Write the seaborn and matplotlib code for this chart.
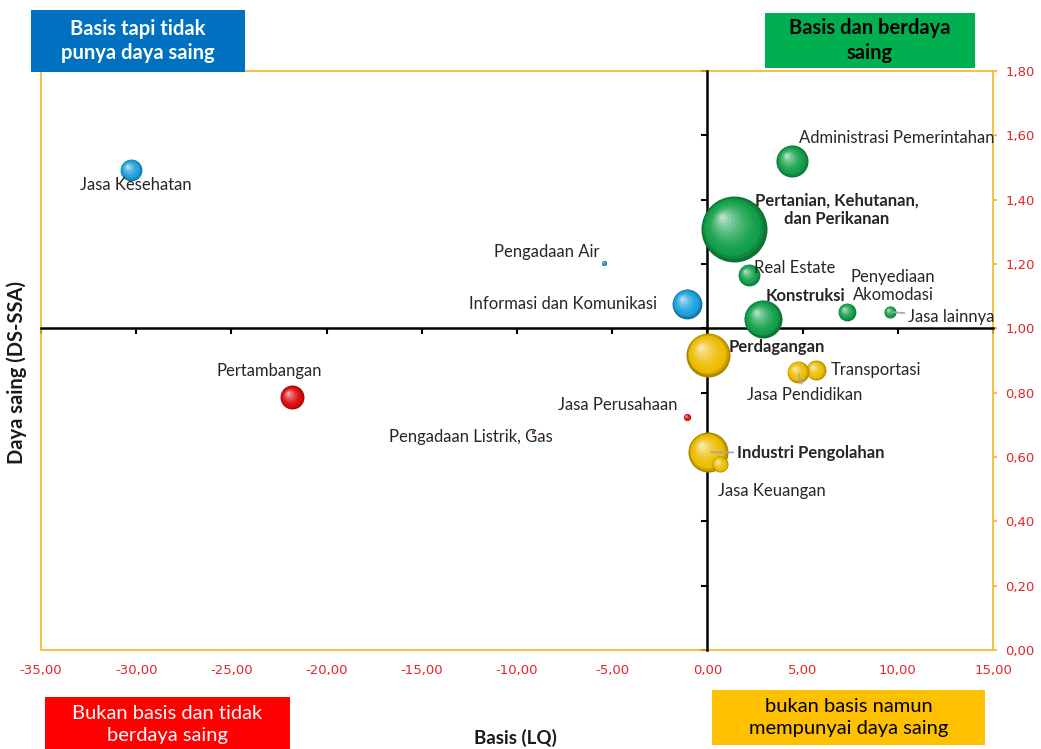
import numpy as np
import pandas as pd
import seaborn as sns
import matplotlib
matplotlib.use("Agg")
import matplotlib.pyplot as plt
from matplotlib.ticker import FuncFormatter
from matplotlib.colors import to_rgb
from matplotlib.patches import Rectangle

# ---------------- data ----------------
sectors = ["Jasa Kesehatan", "Pertambangan", "Pengadaan Air", "Informasi dan Komunikasi",
           "Jasa Perusahaan", "Pengadaan Listrik, Gas", "Administrasi Pemerintahan",
           "Pertanian, Kehutanan,\ndan Perikanan", "Real Estate", "Konstruksi",
           "Penyediaan\nAkomodasi", "Jasa lainnya", "Perdagangan", "Transportasi",
           "Jasa Pendidikan", "Industri Pengolahan", "Jasa Keuangan"]
lq = [-30.27, -21.82, -5.43, -1.07, -1.07, -9.16, 4.44, 1.40, 2.18, 2.92,
      7.33, 9.59, 0.05, 5.70, 4.76, 0.05, 0.66]
ds = [1.492, 0.786, 1.203, 1.076, 0.724, 0.678, 1.520, 1.309, 1.166, 1.029,
      1.051, 1.051, 0.917, 0.870, 0.864, 0.615, 0.578]
share = [2.4, 2.9, 0.13, 4.5, 0.25, 0.045, 5.2, 22.0, 2.4, 7.3,
         1.6, 0.73, 9.8, 2.0, 2.4, 8.1, 1.3]
bold_labels = ["Pertanian, Kehutanan,\ndan Perikanan", "Konstruksi", "Perdagangan",
               "Industri Pengolahan"]
x_ticks = [-35, -30, -25, -20, -15, -10, -5, 0, 5, 10, 15]
y_ticks = [0.0, 0.2, 0.4, 0.6, 0.8, 1.0, 1.2, 1.4, 1.6, 1.8]

df = pd.DataFrame({"sector": sectors, "lq": lq, "ds": ds, "share": share})

def quad(r):
    if r.lq >= 0 and r.ds >= 1:
        return "Basis dan berdaya saing"
    if r.lq < 0 and r.ds >= 1:
        return "Basis tapi tidak punya daya saing"
    if r.lq < 0:
        return "Bukan basis dan tidak berdaya saing"
    return "bukan basis namun mempunyai daya saing"

df["quadrant"] = df.apply(quad, axis=1)

palette = {"Basis dan berdaya saing": "#12A04A",
           "Basis tapi tidak punya daya saing": "#1A9FDB",
           "Bukan basis dan tidak berdaya saing": "#DD0A0A",
           "bukan basis namun mempunyai daya saing": "#EDBB00"}
special_color = {"Pengadaan Air": "#1A8BB0", "Pengadaan Listrik, Gas": "#8B1010"}

# ---------------- figure ----------------
sns.set_theme(style="white")
plt.rcParams["font.family"] = ["Lato", "DejaVu Sans"]
W, H = 1041, 749
fig = plt.figure(figsize=(W / 100, H / 100), dpi=100)
ax = fig.add_axes([41 / W, 1 - 650 / H, (993 - 41) / W, (650 - 71) / H])
ax.set_xlim(-35, 15)
ax.set_ylim(0, 1.8)

smin, smax = 4.7, 2257.0
sns.scatterplot(data=df, x="lq", y="ds", hue="quadrant", palette=palette,
                size="share", sizes=(smin, smax), size_norm=(min(share), max(share)),
                legend=False, ax=ax, linewidth=0, zorder=3)
ax.collections[-1].remove()  # redrawn below with sphere shading

# sphere shading layers
fig.canvas.draw()
sizes_pt2 = smin + (np.array(share) - min(share)) / (max(share) - min(share)) * (smax - smin)
inv = ax.transData.inverted()
N = 14
for i, r in df.iterrows():
    base = np.array(to_rgb(special_color.get(r.sector, palette[r.quadrant])))
    s = sizes_pt2[i]
    rad_px = np.sqrt(s) / 2 * 100 / 72
    cx, cy = ax.transData.transform((r.lq, r.ds))
    for k in range(N):
        t = k / N
        if t < 0.15:
            col = base * (0.72 + 0.28 * t / 0.15)
        else:
            u = (t - 0.15) / 0.85
            col = base + (1 - base) * (u ** 1.6) * 0.8
        col = np.clip(col, 0, 1)
        off = t * 0.38 * rad_px
        px, py = inv.transform((cx - off, cy + off))
        ax.scatter([px], [py], s=s * (1 - t) ** 2, color=col, linewidths=0, zorder=4)

# labels (offsets in pixels from the bubble)
offsets = {"Jasa Kesehatan": (5, -15), "Pertambangan": (-23, 26), "Pengadaan Air": (-57, 11),
           "Informasi dan Komunikasi": (-124, 0), "Jasa Perusahaan": (-69, 12),
           "Pengadaan Listrik, Gas": (-62, -5), "Administrasi Pemerintahan": (105, 23),
           "Pertanian, Kehutanan,\ndan Perikanan": (103, 19), "Real Estate": (46, 7),
           "Konstruksi": (42, 23), "Penyediaan\nAkomodasi": (46, 26), "Jasa lainnya": (61, -5),
           "Perdagangan": (68, 8), "Transportasi": (60, 0), "Jasa Pendidikan": (7, -23),
           "Industri Pengolahan": (102, -1), "Jasa Keuangan": (52, -27)}
leaders = ["Jasa lainnya", "Industri Pengolahan", "Jasa Pendidikan"]
for i, r in df.iterrows():
    dx, dy = offsets[r.sector]
    kw = {}
    if r.sector in leaders:
        kw["arrowprops"] = dict(arrowstyle="-", color="#A6A6A6", lw=1.2, shrinkA=0, shrinkB=2)
    ax.annotate(r.sector, (r.lq, r.ds), xytext=(dx, dy), textcoords="offset pixels",
                ha="center", va="center", fontsize=12, color="#262626",
                fontweight="bold" if r.sector in bold_labels else "normal",
                linespacing=1.2, zorder=6, **kw)

# crossing axes at (0, 1)
for sp in ["top", "right"]:
    ax.spines[sp].set_visible(False)
ax.spines["left"].set_position(("data", 0))
ax.spines["bottom"].set_position(("data", 1.0))
for sp in ["left", "bottom"]:
    ax.spines[sp].set_color("black")
    ax.spines[sp].set_linewidth(1.8)
    ax.spines[sp].set_zorder(2)
ax.set_xticks(x_ticks)
ax.set_yticks(y_ticks)
ax.tick_params(axis="both", which="major", direction="out", length=4, width=1.5,
               color="black", labelleft=False, labelbottom=False, left=True, bottom=True)
ax.set_xlabel("")
ax.set_ylabel("")

# frame
ax.add_patch(Rectangle((0, 0), 1, 1, transform=ax.transAxes, fill=False,
                       edgecolor="#F2B824", lw=1.2, zorder=1, clip_on=False))

fmt = FuncFormatter(lambda v, p: f"{v:.2f}".replace(".", ","))
secy = ax.secondary_yaxis("right")
secy.set_yticks(y_ticks)
secy.yaxis.set_major_formatter(fmt)
secy.tick_params(length=3, color="#F2B824", labelcolor="#E0262A", labelsize=9.5, pad=6)
for lab in secy.get_yticklabels():
    lab.set_fontfamily(["Liberation Sans Narrow", "DejaVu Sans"])
for sp in secy.spines.values():
    sp.set_visible(False)

secx = ax.secondary_xaxis(0)
secx.set_xticks(x_ticks)
secx.xaxis.set_major_formatter(fmt)
secx.tick_params(length=0, labelcolor="#E0262A", labelsize=9.5, pad=10)
for lab in secx.get_xticklabels():
    lab.set_fontfamily(["Liberation Sans Narrow", "DejaVu Sans"])
for sp in secx.spines.values():
    sp.set_visible(False)

# axis titles
fig.text(17 / W, 1 - 373 / H, "Daya saing (DS-SSA)", rotation=90, ha="center", va="center",
         fontsize=14.5, fontweight="bold", color="#1a1a1a")
fig.text(515 / W, 1 - 738 / H, "Basis (LQ)", ha="center", va="center",
         fontsize=13.5, fontweight="bold", color="#1a1a1a")

# quadrant boxes
boxes = [((31, 10, 245, 72), "#0070C0", "Basis tapi tidak\npunya daya saing", "white", "bold"),
         ((765, 13, 975, 68), "#00B050", "Basis dan berdaya\nsaing", "black", "bold"),
         ((45, 697, 290, 752), "#FF0000", "Bukan basis dan tidak\nberdaya saing", "white", "normal"),
         ((712, 690, 985, 745), "#FFC000", "bukan basis namun\nmempunyai daya saing", "black", "normal")]
for (x0, y0, x1, y1), fc, txt, tc, fw in boxes:
    fig.patches.append(Rectangle((x0 / W, 1 - y1 / H), (x1 - x0) / W, (y1 - y0) / H,
                                 transform=fig.transFigure, facecolor=fc, edgecolor="none"))
    fig.text((x0 + x1) / 2 / W, 1 - (y0 + y1) / 2 / H, txt, ha="center", va="center",
             color=tc, fontsize=14.5, fontweight=fw, linespacing=1.3)

fig.savefig("out.png", dpi=100)
